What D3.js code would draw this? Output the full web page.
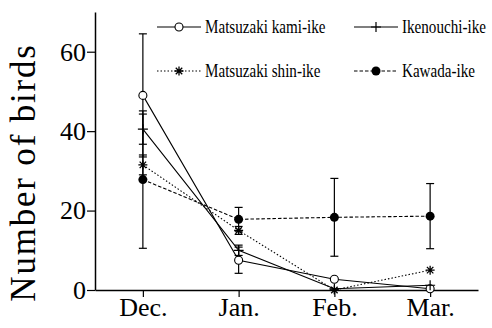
<!DOCTYPE html>
<html>
<head>
<meta charset="utf-8">
<script src="https://cdn.jsdelivr.net/npm/d3@7"></script>
<style>
  body { margin: 0; background: #fff; }
  svg { display: block; }
  svg text { font-family: "Liberation Serif", "DejaVu Serif", serif !important; }
</style>
</head>
<body>
<svg id="chart" width="492" height="328"></svg>
<script>
// data
const months = ['Dec.', 'Jan.', 'Feb.', 'Mar.']
const yTicks = [0, 20, 40, 60]

const kamiIke = [49, 7.5, 2.7, 0.3]
const kamiIkeErr = [15.5, 3.3, 0, 0]
const ikenouchiIke = [40.5, 10, 0.3, 1.2]
const ikenouchiIkeErr = [3.8, 1.3, 0, 0]
const shinIke = [31.5, 15, 0, 5]
const shinIkeErr = [2.5, 1, 0, 0]
const kawadaIke = [27.8, 17.8, 18.3, 18.6]
const kawadaIkeErr = [17.3, 3, 9.8, 8.2]

const series = [
  { name: 'Matsuzaki kami-ike', values: kamiIke, err: kamiIkeErr, marker: 'open', dash: null },
  { name: 'Ikenouchi-ike', values: ikenouchiIke, err: ikenouchiIkeErr, marker: 'plus', dash: null },
  { name: 'Matsuzaki shin-ike', values: shinIke, err: shinIkeErr, marker: 'star', dash: '1.5,2' },
  { name: 'Kawada-ike', values: kawadaIke, err: kawadaIkeErr, marker: 'filled', dash: '3.5,2' }
]

const svg = d3.select('#chart')
const margin = { left: 95, right: 14, top: 12, bottom: 38 }
const width = 492, height = 328

const x = d3.scalePoint()
  .domain(months)
  .range([margin.left, width - margin.right])
  .padding(0.5)

const y = d3.scaleLinear()
  .domain([0, 70])
  .range([height - margin.bottom, margin.top])

// axes
const xAxis = svg.append('g')
  .attr('transform', `translate(0,${height - margin.bottom})`)
  .call(d3.axisBottom(x).tickSize(7).tickSizeOuter(0))
xAxis.select('.domain').attr('stroke-width', 1.5)
xAxis.selectAll('.tick line').attr('stroke-width', 1.2)
xAxis.selectAll('.tick text')
  .attr('font-size', 26)
  .attr('fill', '#000')
  .attr('dy', '0.82em')
  .attr('y', 5)

const yAxis = svg.append('g')
  .attr('transform', `translate(${margin.left},0)`)
  .call(d3.axisLeft(y).tickValues(yTicks).tickSize(8).tickSizeOuter(0))
yAxis.select('.domain').attr('stroke-width', 1.5)
yAxis.selectAll('.tick line').attr('stroke-width', 1.2)
yAxis.selectAll('.tick text')
  .attr('font-size', 26)
  .attr('fill', '#000')
  .attr('x', -9)
  .attr('dy', '0.32em')

svg.append('text')
  .attr('transform', `translate(35,${(35 + 310) / 2}) rotate(-90)`)
  .attr('text-anchor', 'middle')
  .attr('font-size', 35)
  .attr('letter-spacing', 1.8)
  .attr('fill', '#000')
  .text('Number of birds')

const plot = svg.append('g')

// error bars
series.forEach(s => {
  s.values.forEach((v, i) => {
    const e = s.err[i]
    if (!e) return
    const cx = x(months[i])
    const g = plot.append('g').attr('stroke', '#000').attr('stroke-width', 1.2)
    g.append('line').attr('x1', cx).attr('x2', cx).attr('y1', y(v - e)).attr('y2', y(v + e))
    g.append('line').attr('x1', cx - 4).attr('x2', cx + 4).attr('y1', y(v - e)).attr('y2', y(v - e))
    g.append('line').attr('x1', cx - 4).attr('x2', cx + 4).attr('y1', y(v + e)).attr('y2', y(v + e))
  })
})

// lines
const line = d3.line()
  .x((d, i) => x(months[i]))
  .y(d => y(d))

series.forEach(s => {
  plot.append('path')
    .datum(s.values)
    .attr('d', line)
    .attr('fill', 'none')
    .attr('stroke', '#000')
    .attr('stroke-width', 1.1)
    .attr('stroke-dasharray', s.dash)
})

function drawMarker(g, type, cx, cy) {
  if (type === 'open') {
    g.append('circle').attr('cx', cx).attr('cy', cy).attr('r', 4)
      .attr('fill', '#fff').attr('stroke', '#000').attr('stroke-width', 1.1)
  } else if (type === 'filled') {
    g.append('circle').attr('cx', cx).attr('cy', cy).attr('r', 4.5).attr('fill', '#000')
  } else if (type === 'plus') {
    g.append('path').attr('d', `M${cx - 5},${cy}H${cx + 5}M${cx},${cy - 5}V${cy + 5}`)
      .attr('stroke', '#000').attr('stroke-width', 1.2)
  } else if (type === 'star') {
    const r = 4.5, d = r * 0.72
    g.append('path')
      .attr('d', `M${cx - r},${cy}H${cx + r}M${cx},${cy - r}V${cy + r}M${cx - d},${cy - d}L${cx + d},${cy + d}M${cx - d},${cy + d}L${cx + d},${cy - d}`)
      .attr('stroke', '#000').attr('stroke-width', 1.3)
  }
}

// markers
series.forEach(s => {
  s.values.forEach((v, i) => drawMarker(plot, s.marker, x(months[i]), y(v)))
})

// legend
const legendPos = [
  { x: 157, y: 27 },
  { x: 354, y: 27 },
  { x: 157, y: 71 },
  { x: 354, y: 71 }
]
series.forEach((s, i) => {
  const p = legendPos[i]
  const g = svg.append('g')
  g.append('line')
    .attr('x1', p.x).attr('x2', p.x + 44)
    .attr('y1', p.y).attr('y2', p.y)
    .attr('stroke', '#000').attr('stroke-width', 1.1)
    .attr('stroke-dasharray', s.dash)
  drawMarker(g, s.marker, p.x + 22, p.y)
  g.append('text')
    .attr('transform', `translate(${p.x + 48},${p.y + 6}) scale(0.84,1)`)
    .attr('font-size', 18)
    .attr('fill', '#000')
    .text(s.name)
})
</script>
</body>
</html>
